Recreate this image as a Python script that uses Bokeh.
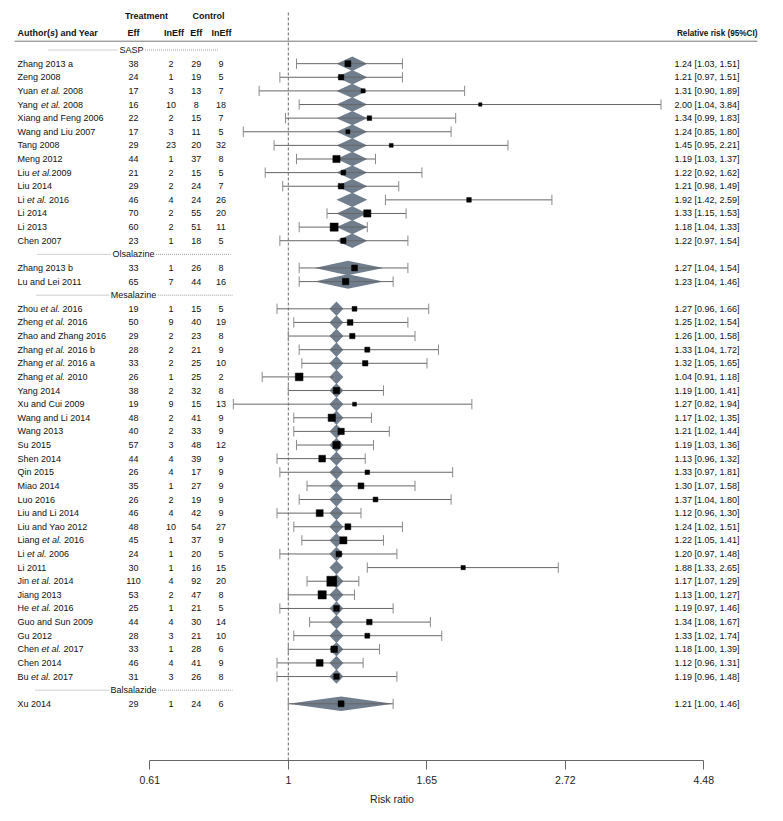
import numpy as np
from bokeh.plotting import figure
from bokeh.models import Range1d, FixedTicker, CustomJSTickFormatter
from bokeh.core.properties import value
from bokeh.embed import file_html
from bokeh.resources import INLINE

# ---------------- data ----------------
groups = ["SASP", "Olsalazine", "Mesalazine", "Balsalazide"]

study = [
    "Zhang 2013 a", "Zeng 2008", "Yuan et al. 2008", "Yang et al. 2008", "Xiang and Feng 2006",
    "Wang and Liu 2007", "Tang 2008", "Meng 2012", "Liu et al.2009", "Liu 2014",
    "Li et al. 2016", "Li 2014", "Li 2013", "Chen 2007",
    "Zhang 2013 b", "Lu and Lei 2011",
    "Zhou et al. 2016", "Zheng et al. 2016", "Zhao and Zhang 2016", "Zhang et al. 2016 b",
    "Zhang et al. 2016 a", "Zhang et al. 2010", "Yang 2014", "Xu and Cui 2009",
    "Wang and Li 2014", "Wang 2013", "Su 2015", "Shen 2014", "Qin 2015", "Miao 2014",
    "Luo 2016", "Liu and Li 2014", "Liu and Yao 2012", "Liang et al. 2016", "Li et al. 2006",
    "Li 2011", "Jin et al. 2014", "Jiang 2013", "He et al. 2016", "Guo and Sun 2009",
    "Gu 2012", "Chen et al. 2017", "Chen 2014", "Bu et al. 2017",
    "Xu 2014",
]
group = ["SASP"] * 14 + ["Olsalazine"] * 2 + ["Mesalazine"] * 28 + ["Balsalazide"] * 1

t_eff = [38, 24, 17, 16, 22, 17, 29, 44, 21, 29, 46, 70, 60, 23,
         33, 65,
         19, 50, 29, 28, 33, 26, 38, 19, 48, 40, 57, 44, 26, 35, 26, 46, 48, 45, 24, 30,
         110, 53, 25, 44, 28, 33, 46, 31,
         29]
t_ineff = [2, 1, 3, 10, 2, 3, 23, 1, 2, 2, 4, 2, 2, 1,
           1, 7,
           1, 9, 2, 2, 2, 1, 2, 9, 2, 2, 3, 4, 4, 1, 2, 4, 10, 1, 1, 1,
           4, 2, 1, 4, 3, 1, 4, 3,
           1]
c_eff = [29, 19, 13, 8, 15, 11, 20, 37, 15, 24, 24, 55, 51, 18,
         26, 44,
         15, 40, 23, 21, 25, 25, 32, 15, 41, 33, 48, 39, 17, 27, 19, 42, 54, 37, 20, 16,
         92, 47, 21, 30, 21, 28, 41, 26,
         24]
c_ineff = [9, 5, 7, 18, 7, 5, 32, 8, 5, 7, 26, 20, 11, 5,
           8, 16,
           5, 19, 8, 9, 10, 2, 8, 13, 9, 9, 12, 9, 9, 9, 9, 9, 27, 9, 5, 15,
           20, 8, 5, 14, 10, 6, 9, 8,
           6]
rr = [1.24, 1.21, 1.31, 2.00, 1.34, 1.24, 1.45, 1.19, 1.22, 1.21, 1.92, 1.33, 1.18, 1.22,
      1.27, 1.23,
      1.27, 1.25, 1.26, 1.33, 1.32, 1.04, 1.19, 1.27, 1.17, 1.21, 1.19, 1.13, 1.33, 1.30,
      1.37, 1.12, 1.24, 1.22, 1.20, 1.88, 1.17, 1.13, 1.19, 1.34, 1.33, 1.18, 1.12, 1.19,
      1.21]
rr_lo = [1.03, 0.97, 0.90, 1.04, 0.99, 0.85, 0.95, 1.03, 0.92, 0.98, 1.42, 1.15, 1.04, 0.97,
         1.04, 1.04,
         0.96, 1.02, 1.00, 1.04, 1.05, 0.91, 1.00, 0.82, 1.02, 1.02, 1.03, 0.96, 0.97, 1.07,
         1.04, 0.96, 1.02, 1.05, 0.97, 1.33, 1.07, 1.00, 0.97, 1.08, 1.02, 1.00, 0.96, 0.96,
         1.00]
rr_hi = [1.51, 1.51, 1.89, 3.84, 1.83, 1.80, 2.21, 1.37, 1.62, 1.49, 2.59, 1.53, 1.33, 1.54,
         1.54, 1.46,
         1.66, 1.54, 1.58, 1.72, 1.65, 1.18, 1.41, 1.94, 1.35, 1.44, 1.36, 1.32, 1.81, 1.58,
         1.80, 1.30, 1.51, 1.41, 1.48, 2.65, 1.29, 1.27, 1.46, 1.67, 1.74, 1.39, 1.31, 1.48,
         1.46]

# fitted (subgroup) estimates drawn as grey polygons
fit_rr = [1.26, 1.24, 1.19, 1.21]
fit_lo = [1.19, 1.10, 1.16, 1.00]
fit_hi = [1.33, 1.41, 1.22, 1.46]

tick_log = [-0.5, 0.0, 0.5, 1.0, 1.5]
tick_labels = ["0.61", "1", "1.65", "2.72", "4.48"]

# ---------------- layout ----------------
W, H = 783, 821
X1, SX = 287.8, 277.0        # page px of RR = 1 and px per log unit
Y1, RH = 703.3, 13.62        # page y of bottom study row and row height
AXY = 760                    # page y of axis line
FONT = "Liberation Sans"
FS = 9.0


def px2rr(px):
    return float(np.exp((px - X1) / SX))


def py2row(py):
    return 1 + (Y1 - py) / RH


AR = {' ': 278, '.': 278, ',': 278, '(': 333, ')': 333, '[': 278, ']': 278, '%': 889}
for ch in "0123456789":
    AR[ch] = 556
AR.update(dict(zip("ABCDEFGHIJKLMNOPQRSTUVWXYZ",
                   [667, 667, 722, 722, 667, 611, 778, 722, 278, 500, 667, 556, 833, 722, 778,
                    667, 778, 722, 667, 611, 722, 667, 944, 667, 667, 611])))
AR.update(dict(zip("abcdefghijklmnopqrstuvwxyz",
                   [556, 556, 500, 556, 556, 278, 556, 556, 222, 222, 500, 222, 833, 556, 556,
                    556, 556, 333, 500, 278, 556, 500, 722, 500, 500, 500])))


def tw(s, size=FS):
    return sum(AR.get(c, 556) for c in s) / 1000.0 * size


# row numbers
study_row = []
group_row = {}
r = 49
for g in groups:
    group_row[g] = r
    r -= 1
    for _ in range(group.count(g)):
        study_row.append(r)
        r -= 1

p = figure(width=W, height=H, x_axis_type="log",
           x_range=Range1d(px2rr(0), px2rr(W)),
           y_range=Range1d(py2row(AXY), py2row(0)),
           y_axis_location=None, toolbar_location=None, output_backend="svg",
           min_border_left=0, min_border_right=0, min_border_top=0, min_border_bottom=H - AXY,
           outline_line_color=None, background_fill_color="white", border_fill_color="white")
p.grid.visible = False

ax = p.xaxis[0]
ax.ticker = FixedTicker(ticks=[float(np.exp(t)) for t in tick_log], minor_ticks=[])
ax.formatter = CustomJSTickFormatter(args=dict(labels=tick_labels), code="return labels[index];")
ax.bounds = (float(np.exp(tick_log[0])), float(np.exp(tick_log[-1])))
ax.axis_line_color = "#666666"
ax.major_tick_line_color = "#666666"
ax.major_tick_out = 9
ax.major_tick_in = 0
ax.minor_tick_out = 0
ax.minor_tick_in = 0
ax.major_label_text_font = FONT
ax.major_label_text_font_size = "10.5px"
ax.major_label_text_color = "#222222"
ax.major_label_standoff = 6
ax.axis_label = "Risk ratio"
ax.axis_label_text_font = FONT
ax.axis_label_text_font_style = "normal"
ax.axis_label_text_font_size = "10.5px"
ax.axis_label_text_color = "#222222"
ax.axis_label_standoff = 6

# reference line at RR = 1
p.segment(x0=[1.0], x1=[1.0], y0=[py2row(AXY)], y1=[py2row(11)],
          line_color="#444444", line_width=0.8, line_dash="3 2")

# header line
p.segment(x0=[px2rr(14)], x1=[px2rr(757)], y0=[py2row(40.7)], y1=[py2row(40.7)],
          line_color="#777777", line_width=1)

# fitted polygons
pxs, pys = [], []
for i, g in enumerate(groups):
    for j, gg in enumerate(group):
        if gg == g:
            rw = study_row[j]
            pxs.append([fit_lo[i], fit_rr[i], fit_hi[i], fit_rr[i]])
            pys.append([rw, rw + 0.53, rw, rw - 0.53])
p.patches(xs=pxs, ys=pys, fill_color="#6F7D8C", line_color=None)

# CIs
p.segment(x0=rr_lo, x1=rr_hi, y0=study_row, y1=study_row, line_color="#666666", line_width=1)
cap = 0.38
p.segment(x0=rr_lo, x1=rr_lo, y0=[v - cap for v in study_row], y1=[v + cap for v in study_row],
          line_color="#8a8a8a", line_width=1)
p.segment(x0=rr_hi, x1=rr_hi, y0=[v - cap for v in study_row], y1=[v + cap for v in study_row],
          line_color="#8a8a8a", line_width=1)

# squares sized by precision
se = (np.log(rr_hi) - np.log(rr_lo)) / 3.92
wi = 1 / se
ps = 0.5 + (wi - wi.min()) / (wi.max() - wi.min())
p.scatter(x=rr, y=study_row, size=list(6.6 * ps), marker="square",
          fill_color="black", line_color="black", line_width=0.5)


def txt(xs, ys, texts, align="left", style="normal", size=FS, color="#111111"):
    p.text(x=xs, y=ys, text=texts, text_align=align, text_baseline="middle",
           text_font=value(FONT), text_font_size=f"{size}px", text_font_style=style,
           text_color=color)


# study labels (with italic "et al.")
NX = 17
plain_x, plain_y, plain_t = [], [], []
ital_x, ital_y, ital_t = [], [], []
for name, rw in zip(study, study_row):
    if "et al." in name:
        pre, post = name.split("et al.")
        x1 = NX + tw(pre)
        x2 = x1 + tw("et al.") + tw(post[:len(post) - len(post.lstrip())])
        plain_x.append(px2rr(NX))
        plain_y.append(rw)
        plain_t.append(pre.rstrip())
        ital_x.append(px2rr(x1))
        ital_y.append(rw)
        ital_t.append("et al.")
        plain_x.append(px2rr(x2))
        plain_y.append(rw)
        plain_t.append(post.lstrip())
    else:
        plain_x.append(px2rr(NX))
        plain_y.append(rw)
        plain_t.append(name)
txt(plain_x, plain_y, plain_t)
txt(ital_x, ital_y, ital_t, style="italic")

# counts
for col, cx in zip([t_eff, t_ineff, c_eff, c_ineff], [133, 170.5, 195.7, 220.5]):
    txt([px2rr(cx)] * len(col), study_row, [str(v) for v in col], align="center")

# RR text
txt([px2rr(739)] * len(rr), study_row,
    [f"{a:.2f} [{b:.2f}, {c:.2f}]" for a, b, c in zip(rr, rr_lo, rr_hi)], align="right")

# subgroup separators
sep = {"SASP": (48, 131, 218), "Olsalazine": (37, 133, 230),
       "Mesalazine": (36, 133, 232), "Balsalazide": (35, 133, 232)}
for g in groups:
    L, C, R = sep[g]
    rw = group_row[g]
    hw = tw(g) / 2 + 1.5
    p.segment(x0=[px2rr(L), px2rr(C + hw)], x1=[px2rr(C - hw), px2rr(R)], y0=[rw, rw], y1=[rw, rw],
              line_color="#777777", line_width=0.7, line_dash="1 1")
    txt([px2rr(C)], [rw], [g], align="center")

# headers
hy1 = py2row(15.7)
hy2 = py2row(32.7)
txt([px2rr(146), px2rr(208)], [hy1, hy1], ["Treatment", "Control"], align="center", style="bold")
txt([px2rr(133), px2rr(173.5), px2rr(195.7), px2rr(221)], [hy2] * 4,
    ["Eff", "InEff", "Eff", "InEff"], align="center", style="bold")
BW = {'A': 722, 'u': 611, 't': 333, 'h': 611, 'o': 611, 'r': 389, '(': 333, 's': 556}
w1 = sum(BW[c] for c in "Author(") / 1000 * FS
w2 = 556 / 1000 * FS
txt([px2rr(17)], [hy2], ["Author("], style="bold")
txt([px2rr(17 + w1)], [hy2], ["s"], style="bold italic")
txt([px2rr(17 + w1 + w2)], [hy2], [") and Year"], style="bold")
txt([px2rr(757)], [hy2], ["Relative risk (95%CI)"], align="right", style="bold", size=8.2)

open("out.html", "w").write(file_html(p, INLINE))
